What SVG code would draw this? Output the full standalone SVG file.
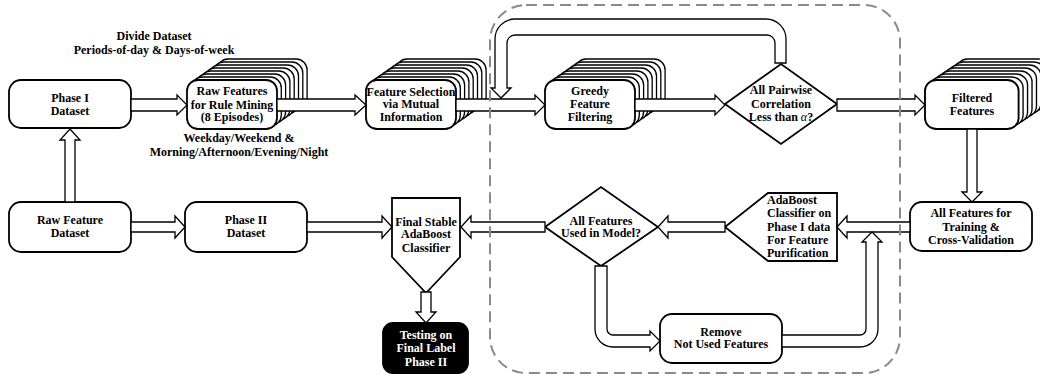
<svg xmlns="http://www.w3.org/2000/svg" width="1040" height="375" viewBox="0 0 1040 375">
<defs>
<style>
.box{fill:#fff;stroke:#000;stroke-width:1.8}
.card{fill:#fff;stroke:#000;stroke-width:1.3}
.arr{fill:#fff;stroke:#000;stroke-width:1.3;stroke-linejoin:miter}
.t{font-family:"Liberation Serif","Times New Roman",serif;font-weight:bold;font-size:12px;fill:#000;text-anchor:middle}
.tl{text-anchor:start}
.w{fill:#fff}
.dash{fill:none;stroke:#8a8a8a;stroke-width:2;stroke-dasharray:11 6}
</style>
<g id="stack8">
<rect class="card" x="30.1" y="-21" width="90" height="49" rx="11"/>
<rect class="card" x="25.8" y="-18" width="90" height="49" rx="11"/>
<rect class="card" x="21.5" y="-15" width="90" height="49" rx="11"/>
<rect class="card" x="17.2" y="-12" width="90" height="49" rx="11"/>
<rect class="card" x="12.9" y="-9" width="90" height="49" rx="11"/>
<rect class="card" x="8.6" y="-6" width="90" height="49" rx="11"/>
<rect class="card" x="4.3" y="-3" width="90" height="49" rx="11"/>
<rect class="box" x="0" y="0" width="90" height="49" rx="11"/>
</g>
</defs>
<rect width="1040" height="375" fill="#fff"/>

<text class="t" x="154" y="40">Divide Dataset</text>
<text class="t" x="154" y="54">Periods-of-day &amp; Days-of-week</text>
<text class="t" x="239" y="142">Weekday/Weekend &amp;</text>
<text class="t" x="239" y="156">Morning/Afternoon/Evening/Night</text>

<g id="phase1">
<rect class="box" x="9" y="80" width="122" height="48" rx="12"/>
<text class="t" x="70" y="102">Phase I</text>
<text class="t" x="70" y="115">Dataset</text>
</g>
<g id="rawdataset">
<rect class="box" x="9" y="202" width="122" height="50" rx="12"/>
<text class="t" x="70" y="224">Raw Feature</text>
<text class="t" x="70" y="237">Dataset</text>
</g>
<g id="phase2">
<rect class="box" x="185" y="202" width="122" height="50" rx="12"/>
<text class="t" x="246" y="224">Phase II</text>
<text class="t" x="246" y="237">Dataset</text>
</g>
<g id="rawfeatures">
<use href="#stack8" x="187" y="80"/>
<text class="t" x="232" y="95">Raw Features</text>
<text class="t" x="232" y="109">for Rule Mining</text>
<text class="t" x="232" y="121">(8 Episodes)</text>
</g>
<g id="featsel">
<use href="#stack8" x="366" y="80"/>
<text class="t" x="411" y="96">Feature Selection</text>
<text class="t" x="411" y="108">via Mutual</text>
<text class="t" x="411" y="121">Information</text>
</g>
<g id="greedy">
<use href="#stack8" x="545" y="80"/>
<text class="t" x="590" y="95">Greedy</text>
<text class="t" x="590" y="108">Feature</text>
<text class="t" x="590" y="121">Filtering</text>
</g>
<g id="pairwise">
<polygon class="box" points="725,104 781,64 837,104 781,144"/>
<text class="t" x="781" y="94">All Pairwise</text>
<text class="t" x="781" y="108">Correlation</text>
<text class="t" x="781" y="121">Less than <tspan font-style="italic" font-weight="normal">α</tspan>?</text>
</g>
<g id="filtered">
<g transform="translate(925,80) scale(1.04,1)"><use href="#stack8"/></g>
<text class="t" x="972" y="102">Filtered</text>
<text class="t" x="972" y="115">Features</text>
</g>
<g id="allfeatures">
<rect class="box" x="910" y="202" width="122" height="49" rx="12"/>
<text class="t" x="971" y="217">All Features for</text>
<text class="t" x="971" y="231">Training &amp;</text>
<text class="t" x="971" y="244">Cross-Validation</text>
</g>
<g id="adaboost">
<polygon class="box" points="725,227 768,193 837,193 837,261 768,261"/>
<text class="t tl" x="767" y="204">AdaBoost</text>
<text class="t tl" x="767" y="217">Classifier on</text>
<text class="t tl" x="767" y="231">Phase I data</text>
<text class="t tl" x="767" y="244">For Feature</text>
<text class="t tl" x="767" y="257">Purification</text>
</g>
<g id="allused">
<polygon class="box" points="545,227 601,187 658,227 601,266"/>
<text class="t" x="601" y="225">All Features</text>
<text class="t" x="601" y="237">Used in Model?</text>
</g>
<g id="remove">
<rect class="box" x="660" y="314" width="122" height="49" rx="12"/>
<text class="t" x="721" y="336">Remove</text>
<text class="t" x="721" y="348">Not Used Features</text>
</g>
<g id="finalstable">
<polygon class="box" points="392,198 460,198 460,257 426,293 392,257"/>
<text class="t" x="426" y="226">Final Stable</text>
<text class="t" x="426" y="238">AdaBoost</text>
<text class="t" x="426" y="252">Classifier</text>
</g>
<g id="testing">
<rect x="383" y="323" width="85" height="50" rx="10" fill="#000" stroke="#000" stroke-width="1.8"/>
<text class="t w" x="426" y="339">Testing on</text>
<text class="t w" x="426" y="352">Final Label</text>
<text class="t w" x="426" y="366">Phase II</text>
</g>

<g id="connectors">
<!-- top row -->
<polygon class="arr" points="131,99 177,99 177,95 187,105 177,115 177,111 131,111"/>
<polygon class="arr" points="277,99 355,99 355,95 366,105 355,115 355,111 277,111"/>
<polygon class="arr" points="456,99 535,99 535,95 545,105 535,115 535,111 456,111"/>
<polygon class="arr" points="635,99 715,99 715,95 725,105 715,115 715,111 635,111"/>
<polygon class="arr" points="837,99 915,99 915,95 925,105 915,115 915,111 837,111"/>
<!-- feedback loop -->
<path class="arr" d="M786,63 L786,39 A20,20 0 0 0 766,19 L515,19 A20,20 0 0 0 495,39 L495,88 L491,88 L501,98 L511,88 L507,88 L507,43 A8,8 0 0 1 515,35 L767,35 A8,8 0 0 1 775,43 L775,63 Z"/>
<!-- up: raw -> phase1 -->
<polygon class="arr" points="65,202 65,140 60,140 70,129 80,140 75,140 75,202"/>
<!-- raw -> phase2 -->
<polygon class="arr" points="131,222 175,222 175,216 185,227 175,238 175,232 131,232"/>
<!-- phase2 -> final -->
<polygon class="arr" points="307,222 382,222 382,216 392,227 382,238 382,232 307,232"/>
<!-- filtered -> allfeatures -->
<polygon class="arr" points="967,129 967,192 962,192 972,202 982,192 977,192 977,129"/>
<!-- allfeatures -> adaboost -->
<polygon class="arr" points="910,222 847,222 847,216 837,227 847,238 847,232 910,232"/>
<!-- adaboost -> allused -->
<polygon class="arr" points="725,222 668,222 668,216 658,227 668,238 668,232 725,232"/>
<!-- allused -> final -->
<polygon class="arr" points="545,222 471,222 471,216 461,227 471,238 471,232 545,232"/>
<!-- final -> testing -->
<polygon class="arr" points="421,292 421,312 416,312 426,323 436,312 431,312 431,292"/>
<!-- allused -> remove -->
<path class="arr" d="M595,266 L595,329 A18,18 0 0 0 613,347 L650,347 L650,351 L660,341 L650,331 L650,335 L613,335 A6,6 0 0 1 607,329 L607,266 Z"/>
<!-- remove -> up -->
<path class="arr" d="M782,335 L860,335 A6,6 0 0 0 866,329 L866,242 L862,242 L872,232 L882,242 L878,242 L878,329 A18,18 0 0 1 860,347 L782,347 Z"/>
</g>

<g id="loop-boundary">
<rect class="dash" x="490" y="5" width="410" height="368" rx="36"/>
</g>
</svg>
